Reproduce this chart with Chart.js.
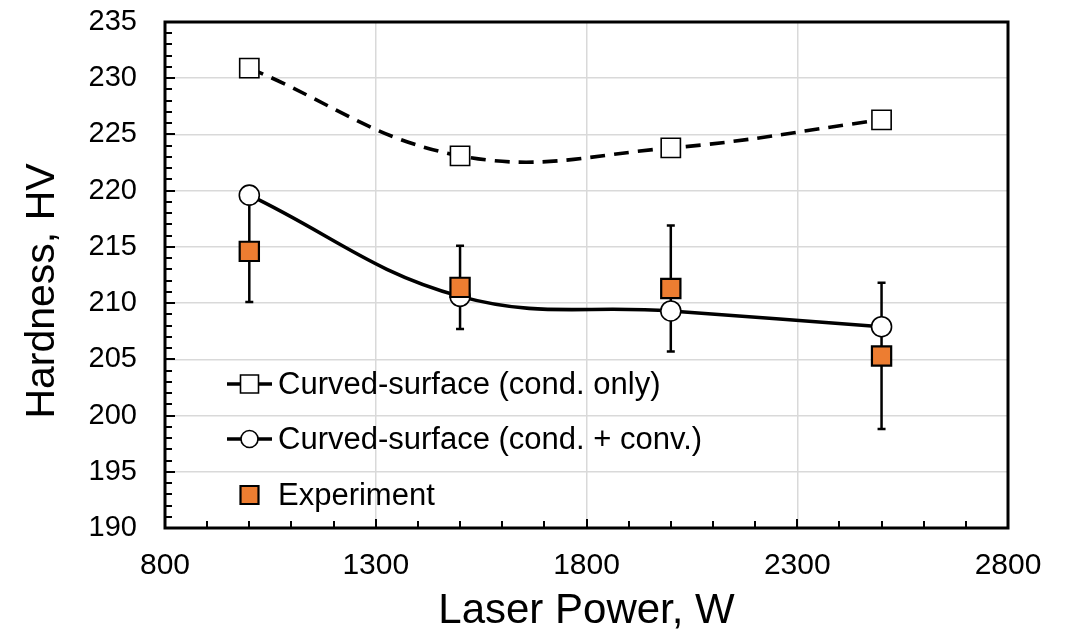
<!DOCTYPE html>
<html><head><meta charset="utf-8">
<script src="https://cdn.jsdelivr.net/npm/chart.js@4.4.1/dist/chart.umd.min.js"></script>
<style>html,body{margin:0;padding:0;background:#fff;overflow:hidden}</style>
</head><body>
<canvas id="c" width="1071" height="633"></canvas>
<script>
const laserPower = [1000, 1500, 2000, 2500];
const condOnly = [230.9, 223.1, 223.8, 226.3];
const condConv = [219.6, 210.6, 209.3, 207.9];
const experiment = [214.6, 211.4, 211.3, 205.3];
const experimentErr = [4.5, 3.7, 5.6, 6.5];
const seriesLabels = ['Curved-surface (cond. only)', 'Curved-surface (cond. + conv.)', 'Experiment'];
const xTitle = 'Laser Power, W';
const yTitle = 'Hardness, HV';
const xTicks = {min: 800, max: 2800, step: 500, minor: 100};
const yTicks = {min: 190, max: 235, step: 5, minor: 1};

const FONT = "'Liberation Sans', Arial, sans-serif";
const ORANGE = '#ED7D31';

const errorBars = {
  id: 'errorBars',
  beforeDatasetsDraw(chart) {
    const {ctx, scales: {x, y}} = chart;
    ctx.save();
    ctx.strokeStyle = '#000';
    ctx.lineWidth = 2.5;
    laserPower.forEach((p, i) => {
      const px = x.getPixelForValue(p);
      const lo = y.getPixelForValue(experiment[i] - experimentErr[i]);
      const hi = y.getPixelForValue(experiment[i] + experimentErr[i]);
      ctx.beginPath();
      ctx.moveTo(px, lo); ctx.lineTo(px, hi);
      ctx.moveTo(px - 4, lo); ctx.lineTo(px + 4, lo);
      ctx.moveTo(px - 4, hi); ctx.lineTo(px + 4, hi);
      ctx.stroke();
    });
    ctx.restore();
  }
};

const frame = {
  id: 'frame',
  afterDraw(chart) {
    const {ctx, chartArea: a, scales: {x, y}} = chart;
    ctx.save();
    ctx.strokeStyle = '#000';
    ctx.lineWidth = 2;
    ctx.beginPath();
    const ny = Math.round((yTicks.max - yTicks.min) / yTicks.minor);
    for (let k = 1; k < ny; k++) {
      const v = yTicks.min + k * yTicks.minor;
      const py = Math.round(y.getPixelForValue(v));
      const major = (k * yTicks.minor) % yTicks.step === 0;
      ctx.moveTo(a.left, py); ctx.lineTo(a.left + (major ? 10 : 7), py);
    }
    const nx = Math.round((xTicks.max - xTicks.min) / xTicks.minor);
    for (let k = 1; k < nx; k++) {
      const v = xTicks.min + k * xTicks.minor;
      const px = Math.round(x.getPixelForValue(v));
      const major = (k * xTicks.minor) % xTicks.step === 0;
      ctx.moveTo(px, a.bottom); ctx.lineTo(px, a.bottom - (major ? 9 : 7));
    }
    ctx.stroke();
    ctx.lineWidth = 3;
    ctx.strokeRect(a.left, a.top, a.right - a.left, a.bottom - a.top);
    // y axis title
    ctx.save();
    ctx.translate(43, (a.top + a.bottom) / 2 + 16);
    ctx.rotate(-Math.PI / 2);
    ctx.fillStyle = '#000';
    ctx.font = '41px ' + FONT;
    ctx.textAlign = 'center';
    ctx.textBaseline = 'middle';
    ctx.fillText(yTitle, 0, 0);
    ctx.restore();
    ctx.restore();
  }
};

const legendBox = {
  id: 'legendBox',
  afterDraw(chart) {
    const {ctx, chartArea: a} = chart;
    const order = [2, 1, 0]; // dataset indices: cond only, cond+conv, experiment
    const x0 = a.left + 62, x1 = a.left + 107, xm = (x0 + x1) / 2;
    const rows = [a.top + 362, a.top + 417, a.top + 473];
    ctx.save();
    order.forEach((di, r) => {
      const ds = chart.data.datasets[di];
      const yy = rows[r];
      if (ds.showLine !== false) {
        ctx.strokeStyle = '#000'; ctx.lineWidth = 3.5; ctx.setLineDash([]);
        ctx.beginPath(); ctx.moveTo(x0, yy); ctx.lineTo(x1, yy); ctx.stroke();
      }
      ctx.fillStyle = ds.pointBackgroundColor;
      ctx.strokeStyle = '#000';
      ctx.lineWidth = ds.pointBorderWidth;
      ctx.beginPath();
      if (ds.pointStyle === 'circle') {
        ctx.arc(xm, yy, 8.5, 0, Math.PI * 2);
      } else {
        ctx.rect(xm - 9, yy - 9, 18, 18);
      }
      ctx.fill(); ctx.stroke();
      ctx.fillStyle = '#000';
      ctx.font = '31px ' + FONT;
      ctx.textBaseline = 'middle';
      ctx.textAlign = 'left';
      ctx.fillText(ds.label, x1 + 6, yy + 1);
    });
    ctx.restore();
  }
};

const toXY = arr => laserPower.map((p, i) => ({x: p, y: arr[i]}));

new Chart(document.getElementById('c'), {
  type: 'line',
  data: {
    datasets: [
      {
        label: seriesLabels[2], data: toXY(experiment), showLine: false,
        pointStyle: 'rect', pointRadius: 13.6, pointBackgroundColor: ORANGE,
        pointBorderColor: '#000', pointBorderWidth: 2.2, order: 0
      },
      {
        label: seriesLabels[1], data: toXY(condConv), borderColor: '#000', borderWidth: 3.6,
        tension: 0.4, fill: false, pointStyle: 'circle', pointRadius: 10,
        pointBackgroundColor: '#fff', pointBorderColor: '#000', pointBorderWidth: 1.6, order: 1
      },
      {
        label: seriesLabels[0], data: toXY(condOnly), borderColor: '#000', borderWidth: 3.6,
        borderDash: [15, 9], tension: 0.4, fill: false, pointStyle: 'rect', pointRadius: 13.6,
        pointBackgroundColor: '#fff', pointBorderColor: '#000', pointBorderWidth: 1.6, order: 2
      }
    ]
  },
  options: {
    responsive: false, animation: false, devicePixelRatio: 1,
    layout: {padding: {left: 0, top: 22, right: 63, bottom: 0}},
    plugins: {legend: {display: false}, tooltip: {enabled: false}},
    font: {family: FONT},
    scales: {
      x: {
        type: 'linear', min: xTicks.min, max: xTicks.max,
        ticks: {stepSize: xTicks.step, font: {size: 30, family: FONT}, color: '#000', padding: 20,
                callback: v => String(v)},
        grid: {color: '#d9d9d9', lineWidth: 1.5, drawTicks: false},
        border: {display: false},
        title: {display: true, text: xTitle, color: '#000', font: {size: 42, family: FONT, lineHeight: 1}, padding: {top: 0, bottom: 1}},
        afterFit(s) { s.height = 105; s.paddingLeft = 0; s.paddingRight = 0; }
      },
      y: {
        type: 'linear', min: yTicks.min, max: yTicks.max,
        ticks: {stepSize: yTicks.step, font: {size: 29, family: FONT}, color: '#000', padding: 28,
                callback: v => String(v)},
        grid: {color: '#d9d9d9', lineWidth: 1.5, drawTicks: false},
        border: {display: false},
        title: {display: false, text: yTitle},
        afterFit(s) { s.width = 165; s.paddingTop = 0; s.paddingBottom = 0; }
      }
    }
  },
  plugins: [errorBars, frame, legendBox]
});
</script>
</body></html>
